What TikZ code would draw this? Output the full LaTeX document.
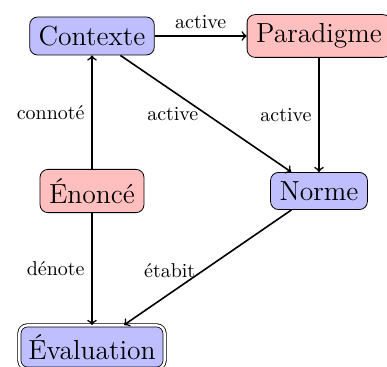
\documentclass[tikz,border=0pt]{standalone}
\usepackage{tikz}
\usetikzlibrary{positioning,arrows}
\usetikzlibrary{shapes}

\begin{document}
\begin{tikzpicture}[->,thick,node distance=77.5pt,on grid,auto,
		concept/.style={rectangle,rounded corners=4pt,draw=black,thin,inner sep=4.5pt,font=\fontsize{13.8}{16}\selectfont},
		actif/.style={concept,fill=blue!25},
		source/.style={concept,fill=red!25}]
		\useasboundingbox (-46pt,18pt) rectangle (147.5pt,-165.5pt);
		\node[actif]  (contexte)                              {Contexte};
		\node[source] (paradigme) [right=113.5pt of contexte] {Paradigme};
		\node[source] (enonce)    [below=of contexte]         {Énoncé};
		\node[actif]  (norme)     [below=of paradigme]        {Norme};
		\node[actif,double,double distance=1.2pt] (evaluation) [below=78pt of enonce] {Évaluation};
		
		\path[->]
		(contexte) edge node {active} (paradigme)
		(contexte) edge node[left,pos=0.5] {active} (norme)
		(paradigme) edge node[swap] {active} (norme)
		(enonce) edge node {connoté} (contexte)
		(enonce) edge node[swap] {dénote} (evaluation)
		(norme) edge node[left,pos=0.53] {étabit} (evaluation);
		\end{tikzpicture}
\end{document}
